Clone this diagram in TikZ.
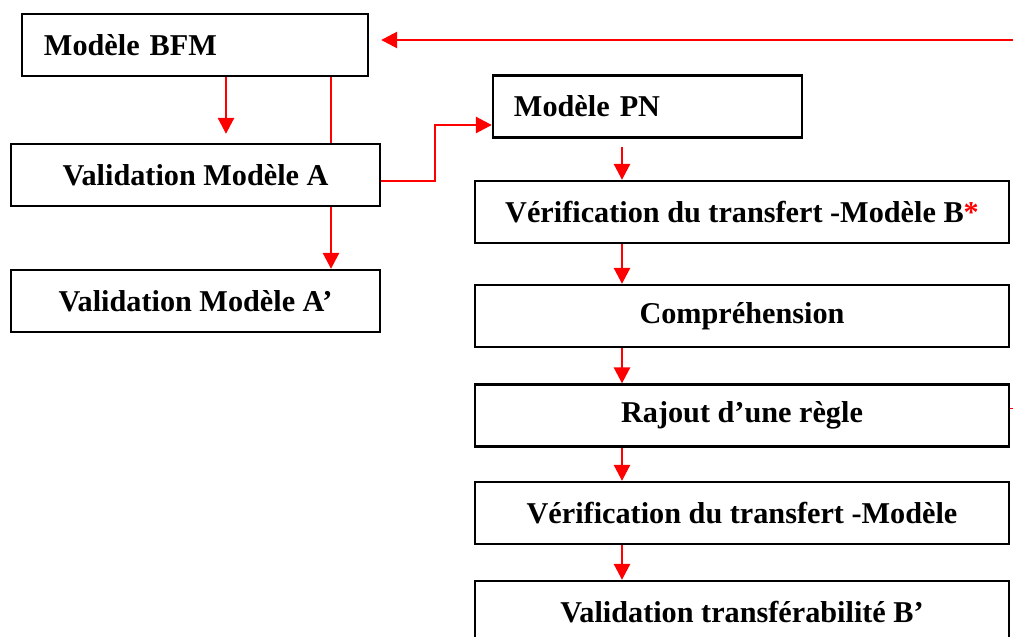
\documentclass[tikz,border=0pt]{standalone}
\usepackage{fontspec}
\setmainfont{Liberation Serif}
\usetikzlibrary{calc, positioning}
\usetikzlibrary{arrows.meta}

\begin{document}
\begin{tikzpicture}[x=0.025cm, y=-0.025cm,
  box/.style={draw, line width=1.6pt, inner sep=0pt, minimum height=1.55cm,
    font=\bfseries\fontsize{21.5}{26}\selectfont},
  flow/.style={draw=red, line width=1.9pt},
  arr/.style={flow, -{Triangle[length=0.4cm, width=0.4cm]}}]
\useasboundingbox (0,0) rectangle (1013,637);
\def\colx{622}
\def\wideB{13.35cm}
\coordinate (col) at (\colx,0);
\coordinate (left1) at (226,0);
\coordinate (left2) at (331,0);
\coordinate (fb) at (1013,40);
\coordinate (bend) at (435,125);

% left column
\node[box, text width=7.55cm, inner xsep=0.55cm, align=left] (bfm) at (195,45) {\mbox{Modèle BFM}};
\node[box, minimum width=9.225cm] (va) at (195.5,175) {Validation Modèle A};
\node[box, minimum width=9.225cm] (vap) at (195.5,301) {Validation Modèle A'};

% right column
\node[box, text width=6.675cm, inner xsep=0.525cm, align=left] (pn) at (647.5,106.5) {\mbox{Modèle PN}};
\node[box, minimum width=\wideB] (vb) at (742,212) {Vérification du transfert -Modèle B{\color{red}*}};
\node[box, minimum width=\wideB] (comp) at (742,316) {Compréhension};
\node[box, minimum width=\wideB] (raj) at (742,415.5) {Rajout d'une règle};
\node[box, minimum width=\wideB] (vm) at (742,513) {Vérification du transfert -Modèle};
\node[box, minimum width=\wideB] (vtb) at (742,612) {Validation transférabilité B'};

\draw[arr] (bfm.south -| left1) -- ($(va.north -| left1)+(0,-9)$);
\draw[flow] (bfm.south -| left2) -- (va.north -| left2);
\draw[arr] (va.south -| left2) -- (vap.north -| left2);
\draw[arr] ($(va.east)+(0,6)$) -| (bend) -- (pn.west |- bend);
\draw[arr] (fb) -- ($(bfm.east |- fb)+(12,0)$);

\draw[arr] ($(pn.south -| col)+(0,8)$) -- (vb.north -| col);
\foreach \a/\b in {vb/comp, comp/raj, raj/vm, vm/vtb}
  \draw[arr] (\a.south -| col) -- (\b.north -| col);

\draw[red, line width=0.5pt] ($(raj.east)+(0,-7.5)$) -- ++(5,0);
\end{tikzpicture}
\end{document}
